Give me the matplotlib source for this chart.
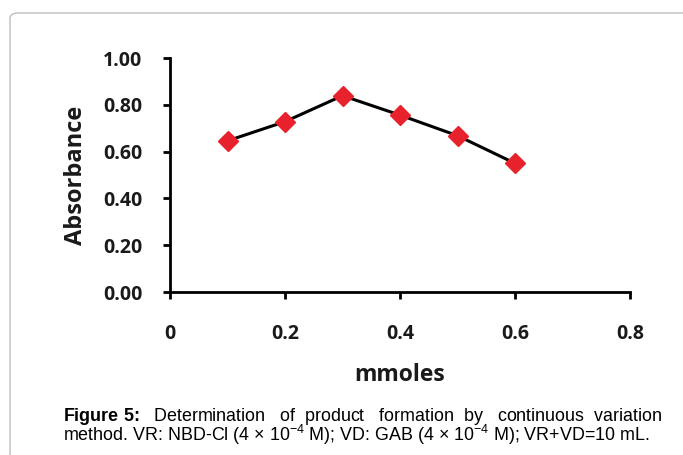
import matplotlib
matplotlib.use("Agg")
import matplotlib.pyplot as plt
from matplotlib.patches import FancyBboxPatch

mmoles = [0.1, 0.2, 0.3, 0.4, 0.5, 0.6]
absorbance = [0.646, 0.728, 0.839, 0.756, 0.668, 0.550]
xticks = [0, 0.2, 0.4, 0.6, 0.8]
xticklabels = ["0", "0.2", "0.4", "0.6", "0.8"]
yticks = [0.0, 0.2, 0.4, 0.6, 0.8, 1.0]
yticklabels = ["0.00", "0.20", "0.40", "0.60", "0.80", "1.00"]

plt.rcParams['mathtext.fontset'] = 'custom'
plt.rcParams['mathtext.rm'] = 'Liberation Sans'
plt.rcParams['mathtext.bf'] = 'Liberation Sans:bold'

W, H = 683, 455
fig = plt.figure(figsize=(W/100, H/100), dpi=100)

# border box
box = FancyBboxPatch((10/W, -0.2), 1.0, 1 - 13/H + 0.2, transform=fig.transFigure,
                     boxstyle="round,pad=0,rounding_size=0.012", fill=False,
                     edgecolor="#bdbdbd", linewidth=1.0)
fig.patches.append(box)

ax = fig.add_axes([170/W, 1 - 292/H, 460/W, 234/H])
ax.plot(mmoles, absorbance, color="black", linewidth=2.2, marker="D",
        markersize=10, markerfacecolor="#e8222c", markeredgecolor="#e8222c", zorder=3)
ax.set_xlim(0, 0.8)
ax.set_ylim(0, 1.0)
ax.set_xticks(xticks)
ax.set_xticklabels(xticklabels)
ax.set_yticks(yticks)
ax.set_yticklabels(yticklabels)
for s in ["top", "right"]:
    ax.spines[s].set_visible(False)
for s in ["left", "bottom"]:
    ax.spines[s].set_linewidth(2.0)
ax.tick_params(direction="out", length=5, width=2.0)
ax.tick_params(axis="y", pad=15)
ax.tick_params(axis="x", pad=18)
for lab in ax.get_xticklabels() + ax.get_yticklabels():
    lab.set_fontfamily("Open Sans")
    lab.set_fontweight("bold")
    lab.set_fontsize(14)
    lab.set_color("#1a1a1a")
ax.set_xlabel("mmoles", fontfamily="Open Sans", fontweight="bold", fontsize=16.5, labelpad=14, color="#1a1a1a")
ax.set_ylabel("Absorbance", fontfamily="Open Sans", fontweight="bold", fontsize=17, labelpad=11, color="#1a1a1a")

# caption: first line justified with spaces, one multi-line text
renderer = fig.canvas.get_renderer()
cap_fs = 12.9
words1 = ["Determination", "of", "product", "formation", "by", "continuous", "variation"]
bold1 = r"$\mathbf{Figure\ 5}\!\mathbf{:}$"
line2 = "method. VR: NBD-Cl (4 × 10$^{-4}$ M); VD: GAB (4 × 10$^{-4}$ M); VR+VD=10 mL."

def width(s):
    t = fig.text(0, 0, s, fontfamily="Liberation Sans", fontsize=cap_fs)
    w = t.get_window_extent(renderer).width
    t.remove()
    return w

target = 596.0
pieces = [bold1] + words1
widths = [width(p) for p in pieces]
sp = (width("a" + " " * 10 + "a") - width("aa")) / 10
gap = (target - sum(widths)) / (len(pieces) - 1)
line1 = pieces[0]
acc = widths[0]
for i, p in enumerate(pieces[1:], start=1):
    want = widths[0] + sum(widths[1:i]) + gap * i
    n = max(1, int(round((want - acc) / sp)))
    line1 += " " * n + p
    acc += n * sp + widths[i]

fig.text(63/W, 1 - 406/H, line1 + "\n" + line2, fontfamily="Liberation Sans",
         fontsize=cap_fs, va="top", ha="left", linespacing=0.8)

fig.savefig("out.png", dpi=100)
